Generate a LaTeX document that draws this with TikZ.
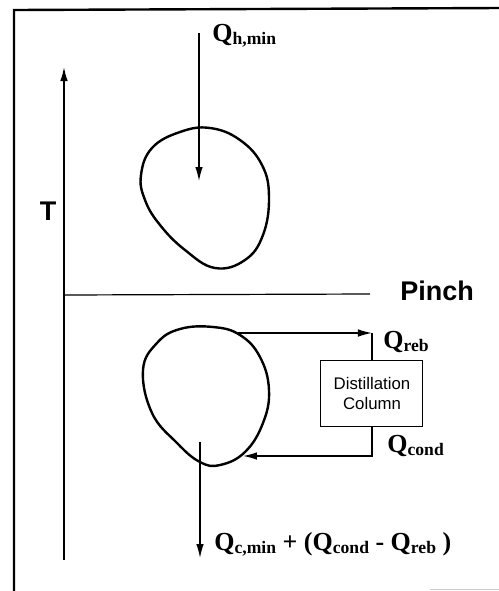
\documentclass[tikz,border=0pt]{standalone}
\usepackage{fontspec}
\setmainfont{Liberation Serif}
\newfontfamily\arialfont{Liberation Sans}
\usetikzlibrary{arrows.meta, positioning}

\newcommand{\heat}[1]{Q\raisebox{-0.3ex}{\fontsize{8.8}{9}\selectfont #1}}

\begin{document}
\begin{tikzpicture}[
    x=0.5pt, y=-0.5pt,
    flow/.style={-{Latex[length=7pt, width=3.8pt]}, line width=0.7pt},
    qlabel/.style={font=\bfseries\fontsize{13}{14}\selectfont, inner sep=0pt, anchor=base west},
    bigsans/.style={font=\arialfont\bfseries\fontsize{13.5}{15}\selectfont, inner sep=0pt},
    blob/.style={line width=1.2pt}
]
\useasboundingbox (0,0) rectangle (499,591);

% ============ FRAME ============
\draw[line width=1.2pt] (14,591) -- (14,10) -- (499,8);
\draw[gray!40, line width=0.5pt] (430,589) -- (499,589);

% ============ TEMPERATURE AXIS AND PINCH ============
\coordinate (origin) at (64,560);
\coordinate (ttop) at (64,67);
\draw[flow, line width=0.8pt] (origin) -- (ttop);
\node[bigsans] (tlabel) at (48,211) {T};

\coordinate (pinchleft) at (64,295);
\coordinate (pinchright) at (370,294);
\draw[line width=0.6pt] (pinchleft) -- (pinchright);
\node[bigsans, anchor=base west] (pinch) at (400,300) {Pinch};

% ============ ABOVE THE PINCH ============
\draw[blob] plot[smooth cycle, tension=0.7] coordinates {
    (141,175) (152,148) (180,132) (210,128) (240,140) (262,165)
    (269,197) (263,235) (245,260) (215,268) (185,250) (160,225) (145,200)};

\coordinate (hotstart) at (199,33);
\coordinate (hotend) at (199,181);
\draw[flow] (hotstart) -- (hotend);
\node[qlabel] (qhot) at (212,41) {\heat{h,min}};

% ============ BELOW THE PINCH ============
\draw[blob] plot[smooth cycle, tension=0.7] coordinates {
    (143,370) (157,343) (180,329) (213,327) (240,335) (260,357)
    (269,390) (263,423) (245,452) (220,465) (200,462) (177,443) (152,413)};

% distillation column
\node[draw, line width=0.5pt, minimum width=51pt, minimum height=33pt, align=center,
      font=\arialfont\fontsize{8.4}{10}\selectfont] (column) at (372,393) {Distillation\\Column};

% reboiler duty
\coordinate (rebout) at (238,333);
\coordinate (rebin) at (372,333);
\draw[flow] (rebout) -- (rebin);
\draw[line width=0.7pt] (rebin) -- (column.north);
\node[qlabel] (qreb) at (383,348) {\heat{reb}};

% condenser duty
\coordinate (condin) at (243,456);
\draw[flow] (column.south) |- (condin);
\node[qlabel] (qcond) at (387,452) {\heat{cond}};

% cold utility
\coordinate (coldstart) at (200,442);
\coordinate (coldend) at (200,558);
\draw[flow] (coldstart) -- (coldend);
\node[qlabel] (qcold) at (214,550) {\heat{c,min} + (\heat{cond} - \heat{reb} )};

\end{tikzpicture}
\end{document}
